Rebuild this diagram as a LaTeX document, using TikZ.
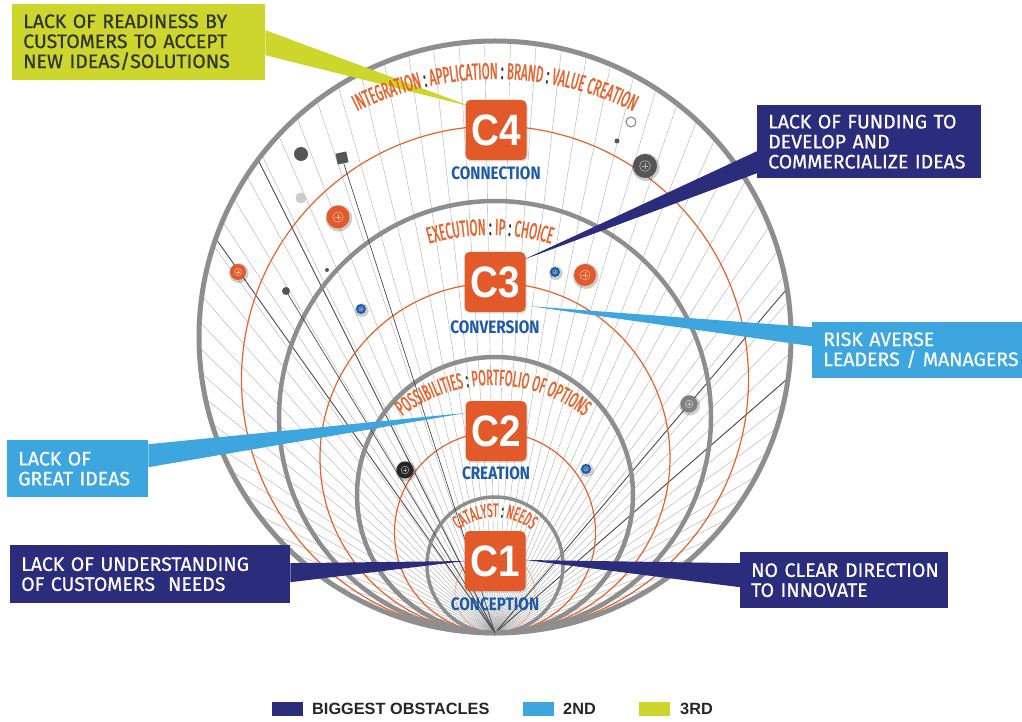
\documentclass[tikz,border=0pt]{standalone}
\usepackage{fontspec}
\setmainfont{Fira Sans}[FakeBold=0.6]
\newfontfamily\arcfont{Fira Sans}[FakeStretch=0.5, FakeBold=1.4]
\newfontfamily\stagefont{Fira Sans}[FakeStretch=0.85]
\newfontfamily\numfont{Liberation Sans}[FakeStretch=0.88]
\newfontfamily\keyfont{Liberation Sans}
\usetikzlibrary{decorations.text,shadows,calc}

\definecolor{cOrange}{HTML}{E2592A}
\definecolor{cNavy}{HTML}{2B2C7C}
\definecolor{cSky}{HTML}{3EA6DE}
\definecolor{cLime}{HTML}{CCD62C}
\definecolor{cRing}{HTML}{8E8E8E}
\definecolor{cArc}{HTML}{E8632B}
\definecolor{cStage}{HTML}{1E5BA7}
\definecolor{cInk}{HTML}{333333}
\definecolor{cDark}{HTML}{555555}

\pgfdeclarelayer{bg}
\pgfdeclarelayer{wedges}
\pgfsetlayers{bg,wedges,main}

% round marker with a small ringed plus sign
\newcommand\drawbadge[4]{%
  \fill[black, opacity=0.2] (#1+0.8,#2-1.2) circle[radius=#3+1.8];
  \fill[#4] (#1,#2) circle[radius=#3];
  \draw[white, opacity=0.55, line width=0.6pt] (#1,#2) circle[radius=0.45*#3];
  \draw[white, opacity=0.55, line width=0.6pt] (#1-0.25*#3,#2) -- (#1+0.25*#3,#2) (#1,#2-0.25*#3) -- (#1,#2+0.25*#3);
}
\newcommand\afont[1]{\arcfont\fontsize{#1}{#1}\selectfont}

\begin{document}
\begin{tikzpicture}[x=1pt,y=1pt,
  fan/.style={draw=black!35, line width=0.35pt},
  fandark/.style={draw=black!70, line width=0.9pt},
  ring/.style={draw=cRing, line width=4.5pt},
  orbit/.style={draw=cArc, line width=1.2pt},
  cbox/.style={fill=cOrange, rounded corners=5pt, minimum width=61, minimum height=60, inner sep=0pt,
    text=white, font=\numfont\bfseries\fontsize{44}{44}\selectfont,
    drop shadow={opacity=0.3, shadow xshift=1.2pt, shadow yshift=-1.5pt}},
  stage/.style={text=cStage, inner sep=0pt, font=\stagefont\bfseries\fontsize{18}{18}\selectfont},
  obstacle/.style={anchor=north west, inner xsep=11pt, inner ysep=0pt, align=left,
    font=\fontsize{19.5}{20}\selectfont},
  legkey/.style={anchor=south west, minimum width=31, minimum height=14, inner sep=0pt},
  legtext/.style={anchor=west, inner sep=0pt, text=black!85, font=\keyfont\bfseries\fontsize{16.3}{16.3}\selectfont}
]
\useasboundingbox (0,0) rectangle (1022,721);

\coordinate (P) at (495,88);

\begin{pgfonlayer}{bg}
  \fill[white] (0,0) rectangle (1022,721);
  % fan of rays from the common tangent point
  \foreach \a in {6,8.5,...,174}
    \draw[fan] (P) -- ++(\a:{592*sin(\a)});
  \foreach \a in {116.6,125.3,49.7,41}
    \draw[fandark] (P) -- ++(\a:{592*sin(\a)});
  % nested rings, all tangent at P
  \draw[orbit] (495,341.5) circle[radius=253.5];
  \draw[orbit] (495,263) circle[radius=175];
  \draw[orbit] (495,188.5) circle[radius=100.5];
  \draw[orbit, draw opacity=0.45, line width=0.8pt] (495,128) circle[radius=40];
  \draw[ring] (495,304) circle[radius=216];
  \draw[ring] (495,226) circle[radius=138];
  \draw[ring, line width=3.5pt] (495,156) circle[radius=68];
  \draw[ring, line width=5pt] (495,384) circle[radius=296];
\end{pgfonlayer}

% scattered markers
\node[fill=cDark, minimum size=11, rotate=12, inner sep=0pt] (sq) at (342,563) {};
\fill[cDark] (286,430) circle[radius=4] coordinate (dd);
\begin{pgfonlayer}{bg}
  \draw[fandark, line width=0.7pt] (sq) -- (P);
  \draw[fandark, line width=0.7pt] (dd) -- (P);
\end{pgfonlayer}
\fill[cDark] (301,567) circle[radius=7];
\fill[black!20] (301,523) circle[radius=5.5];
\fill[cDark] (327,451) circle[radius=2];
\draw[gray, line width=1pt] (631,599) circle[radius=5];
\fill[cDark] (617,580) circle[radius=2.5];
\drawbadge{338}{504}{11.5}{cOrange}
\drawbadge{238}{449}{8}{cOrange}
\drawbadge{585}{446}{11}{cOrange}
\drawbadge{645}{555}{12}{cDark}
\drawbadge{361}{412}{5}{cStage}
\drawbadge{555}{449}{5}{cStage}
\drawbadge{586}{252}{5}{cStage}
\drawbadge{689}{317}{8.5}{gray}
\drawbadge{405}{251}{8.5}{black!85}

% curved stage captions
\path[decorate, decoration={text along path, text align=center,
  text={|\afont{23}\color{cArc}|INTEGRATION |\afont{23}\color{cInk}|:|\afont{23}\color{cArc}| APPLICATION |\afont{23}\color{cInk}|:|\afont{23}\color{cArc}| BRAND |\afont{23}\color{cInk}|:|\afont{23}\color{cArc}| VALUE CREATION}}]
  (495,331) ++(150:311) arc[start angle=150, end angle=30, radius=311];
\path[decorate, decoration={text along path, text align=center,
  text={|\afont{23}\color{cArc}|EXECUTION |\afont{23}\color{cInk}|:|\afont{23}\color{cArc}| IP |\afont{23}\color{cInk}|:|\afont{23}\color{cArc}| CHOICE}}]
  (490,266) ++(150:220) arc[start angle=150, end angle=30, radius=220];
\path[decorate, decoration={text along path, text align=center,
  text={|\afont{22}\color{cArc}|POSSIBILITIES |\afont{22}\color{cInk}|:|\afont{22}\color{cArc}| PORTFOLIO OF OPTIONS}}]
  (493,188) ++(170:148) arc[start angle=170, end angle=10, radius=148];
\path[decorate, decoration={text along path, text align=center,
  text={|\afont{19.5}\color{cArc}|CATALYST |\afont{19.5}\color{cInk}|:|\afont{19.5}\color{cArc}| NEEDS}}]
  (495,146) ++(170:58) arc[start angle=170, end angle=10, radius=58];

% stage boxes
\node[cbox] (c4) at (496,591) {C4};
\node[cbox] (c3) at (495,439) {C3};
\node[cbox] (c2) at (496,290) {C2};
\node[cbox] (c1) at (495,160) {C1};
\node[stage] (n4) at (496,548) {CONNECTION};
\node[stage] (n3) at (495,394) {CONVERSION};
\node[stage] (n2) at (496,248) {CREATION};
\node[stage] (n1) at (495,117) {CONCEPTION};

% obstacle callouts
\node[obstacle, fill=cLime, text=cInk, minimum width=253, minimum height=76, text width=231] (ready) at (12,717)
  {\mbox{LACK OF READINESS BY}\\\mbox{CUSTOMERS TO ACCEPT}\\\mbox{NEW IDEAS/SOLUTIONS}};
\node[obstacle, fill=cNavy, text=white, minimum width=224, minimum height=73, text width=202] (fund) at (757,616)
  {\mbox{LACK OF FUNDING TO}\\\mbox{DEVELOP AND}\\\mbox{COMMERCIALIZE IDEAS}};
\node[obstacle, fill=cSky, text=white, minimum width=210, minimum height=56, text width=188] (risk) at (812,399)
  {\mbox{RISK AVERSE}\\\mbox{LEADERS / MANAGERS}};
\node[obstacle, fill=cSky, text=white, minimum width=141, minimum height=57, text width=119] (ideas) at (7,281)
  {\mbox{LACK OF}\\\mbox{GREAT IDEAS}};
\node[obstacle, fill=cNavy, text=white, minimum width=280, minimum height=58, text width=258] (under) at (10,176)
  {\mbox{LACK OF UNDERSTANDING}\\\mbox{OF CUSTOMERS~~NEEDS}};
\node[obstacle, fill=cNavy, text=white, minimum width=208, minimum height=56, text width=186] (dir) at (740,169)
  {\mbox{NO CLEAR DIRECTION}\\\mbox{TO INNOVATE}};

% tapered pointers from callouts to stages
\begin{pgfonlayer}{wedges}
  \fill[cLime] ([yshift=12]ready.east) -- ([yshift=-13]ready.east) -- ([xshift=6.5,yshift=-7]c4.north west) -- cycle;
  \fill[cNavy] ([yshift=-9.5]fund.west) -- ([yshift=-31.5]fund.west) -- ([xshift=-2.5,yshift=-8]c3.north east) -- cycle;
  \fill[cSky] ([yshift=23]risk.west) -- ([yshift=4]risk.west) -- ([xshift=4.5,yshift=6]c3.south east) -- cycle;
  \fill[cSky] ([yshift=24.5]ideas.east) -- ([yshift=1.5]ideas.east) -- ([xshift=1.5,yshift=-12]c2.north west) -- cycle;
  \fill[cNavy] ([yshift=11]under.east) -- ([yshift=-8]under.east) -- ([xshift=1]c1.west) -- cycle;
  \fill[cNavy] ([yshift=17]dir.west) -- ([yshift=-7]dir.west) -- ([yshift=1]c1.east) -- cycle;
\end{pgfonlayer}

% legend
\node[legkey, fill=cNavy] (kbig) at (272,5) {};
\node[legtext] (tbig) at (312,12) {BIGGEST OBSTACLES};
\node[legkey, fill=cSky] (ksec) at (523,5) {};
\node[legtext] (tsec) at (563,12) {2ND};
\node[legkey, fill=cLime] (kthr) at (639,5) {};
\node[legtext] (tthr) at (680,12) {3RD};
\end{tikzpicture}
\end{document}
